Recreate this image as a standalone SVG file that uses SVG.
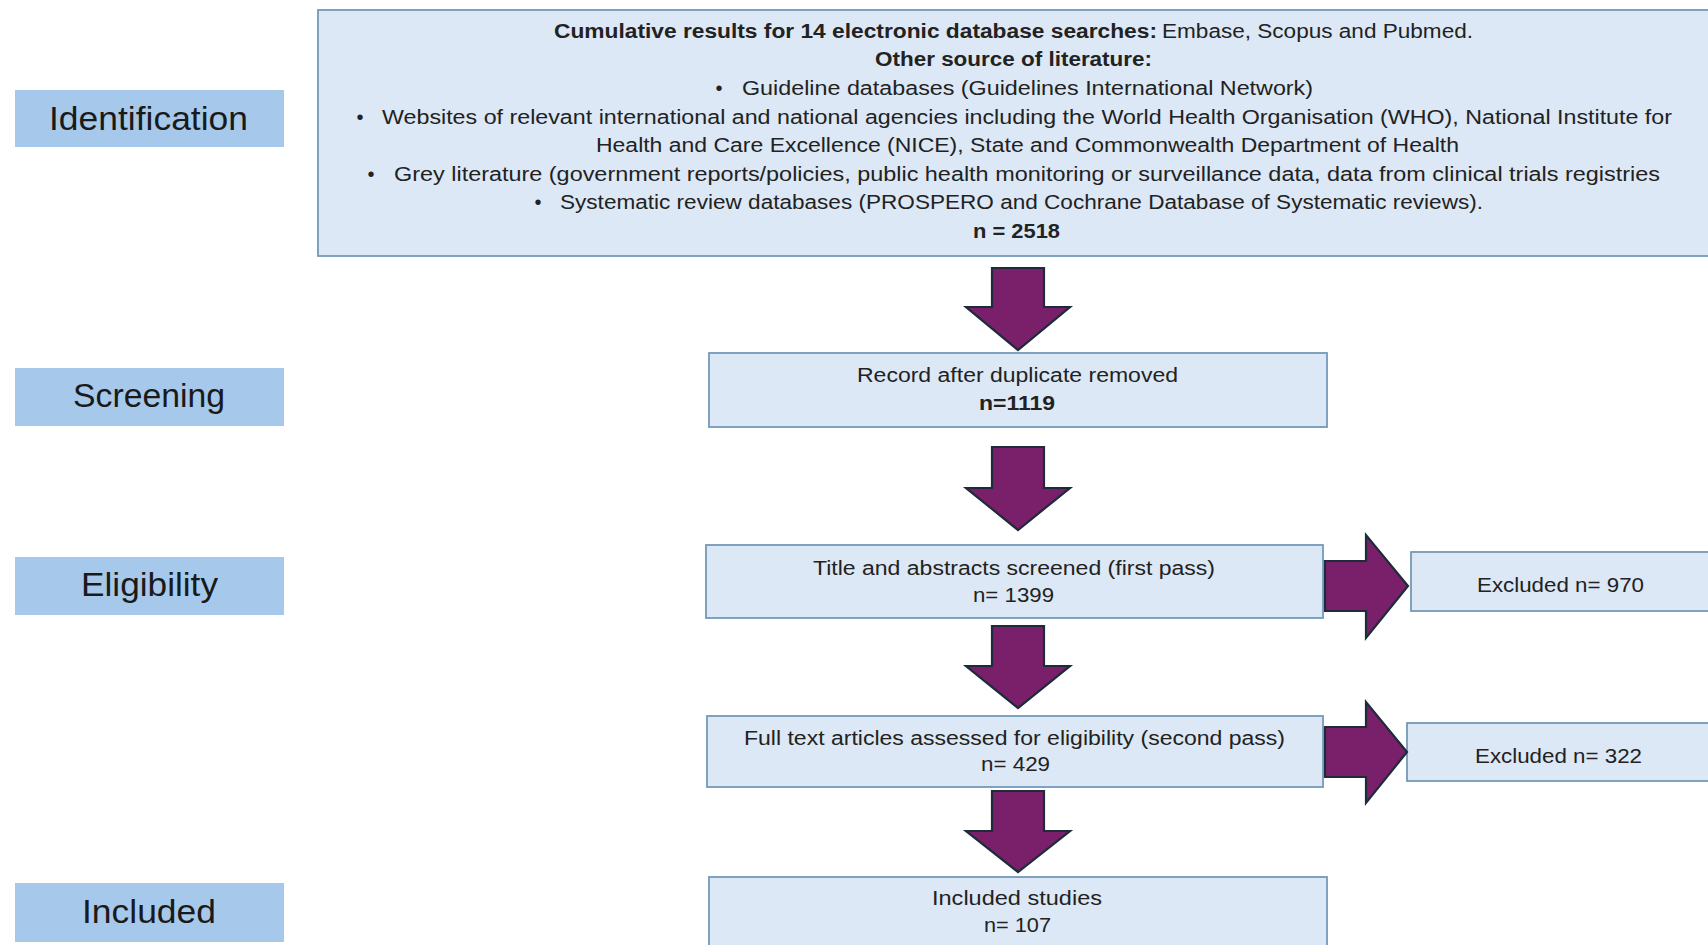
<svg xmlns="http://www.w3.org/2000/svg" width="1708" height="945" viewBox="0 0 1708 945">
<style>
.box{fill:#DCE8F5;stroke:#7399B8;stroke-width:1.8}
.lab{fill:#A6C9EB}
.t{font-family:"Liberation Sans",Arial,sans-serif;font-size:20px;fill:#222}
.b{font-weight:bold}
.lt{font-family:"Liberation Sans",Arial,sans-serif;font-size:34px;fill:#1a1a1a}
.arr{fill:#7A1F69;stroke:#1E2B3B;stroke-width:2.2;stroke-linejoin:miter}
</style>
<rect width="1708" height="945" fill="#ffffff"/>

<g id="label-identification">
<rect class="lab" x="15" y="90" width="269" height="57"/>
<text class="lt" x="49" y="130" textLength="199" lengthAdjust="spacingAndGlyphs">Identification</text>
</g>
<g id="label-screening">
<rect class="lab" x="15" y="368" width="269" height="58"/>
<text class="lt" x="73" y="407" textLength="152" lengthAdjust="spacingAndGlyphs">Screening</text>
</g>
<g id="label-eligibility">
<rect class="lab" x="15" y="557" width="269" height="58"/>
<text class="lt" x="81" y="596" textLength="137" lengthAdjust="spacingAndGlyphs">Eligibility</text>
</g>
<g id="label-included">
<rect class="lab" x="15" y="883" width="269" height="59"/>
<text class="lt" x="82" y="923" textLength="134" lengthAdjust="spacingAndGlyphs">Included</text>
</g>

<g id="node-identification">
<rect class="box" x="318" y="10" width="1400" height="246"/>
<text class="t b" x="554" y="38" textLength="603" lengthAdjust="spacingAndGlyphs">Cumulative results for 14 electronic database searches:</text>
<text class="t" x="1162" y="38" textLength="311" lengthAdjust="spacingAndGlyphs">Embase, Scopus and Pubmed.</text>
<text class="t b" x="875" y="66" textLength="277" lengthAdjust="spacingAndGlyphs">Other source of literature:</text>
<text class="t" x="719" y="95" text-anchor="middle">•</text>
<text class="t" x="742" y="95" textLength="571" lengthAdjust="spacingAndGlyphs">Guideline databases (Guidelines International Network)</text>
<text class="t" x="360" y="124" text-anchor="middle">•</text>
<text class="t" x="382" y="124" textLength="1290" lengthAdjust="spacingAndGlyphs">Websites of relevant international and national agencies including the World Health Organisation (WHO), National Institute for</text>
<text class="t" x="596" y="152" textLength="863" lengthAdjust="spacingAndGlyphs">Health and Care Excellence (NICE), State and Commonwealth Department of Health</text>
<text class="t" x="371" y="181" text-anchor="middle">•</text>
<text class="t" x="394" y="181" textLength="1266" lengthAdjust="spacingAndGlyphs">Grey literature (government reports/policies, public health monitoring or surveillance data, data from clinical trials registries</text>
<text class="t" x="538" y="209" text-anchor="middle">•</text>
<text class="t" x="560" y="209" textLength="923" lengthAdjust="spacingAndGlyphs">Systematic review databases (PROSPERO and Cochrane Database of Systematic reviews).</text>
<text class="t b" x="973" y="238" textLength="87" lengthAdjust="spacingAndGlyphs">n = 2518</text>
</g>

<g id="node-duplicates">
<rect class="box" x="709" y="353" width="618" height="74"/>
<text class="t" x="857" y="382" textLength="321" lengthAdjust="spacingAndGlyphs">Record after duplicate removed</text>
<text class="t b" x="979" y="410" textLength="76" lengthAdjust="spacingAndGlyphs">n=1119</text>
</g>

<g id="node-title-abstract">
<rect class="box" x="706" y="545" width="617" height="73"/>
<text class="t" x="813" y="575" textLength="402" lengthAdjust="spacingAndGlyphs">Title and abstracts screened (first pass)</text>
<text class="t" x="973" y="602" textLength="81" lengthAdjust="spacingAndGlyphs">n= 1399</text>
</g>

<g id="node-excluded-1">
<rect class="box" x="1411" y="552" width="310" height="59"/>
<text class="t" x="1477" y="592" textLength="167" lengthAdjust="spacingAndGlyphs">Excluded n= 970</text>
</g>

<g id="node-full-text">
<rect class="box" x="707" y="716" width="616" height="71"/>
<text class="t" x="744" y="745" textLength="541" lengthAdjust="spacingAndGlyphs">Full text articles assessed for eligibility (second pass)</text>
<text class="t" x="981" y="771" textLength="69" lengthAdjust="spacingAndGlyphs">n= 429</text>
</g>

<g id="node-excluded-2">
<rect class="box" x="1407" y="723" width="314" height="58"/>
<text class="t" x="1475" y="763" textLength="167" lengthAdjust="spacingAndGlyphs">Excluded n= 322</text>
</g>

<g id="node-included">
<rect class="box" x="709" y="877" width="618" height="90"/>
<text class="t" x="932" y="905" textLength="170" lengthAdjust="spacingAndGlyphs">Included studies</text>
<text class="t" x="984" y="932" textLength="67" lengthAdjust="spacingAndGlyphs">n= 107</text>
</g>

<g id="connectors">
<path class="arr" d="M992,268 H1044 V307 H1070 L1018,350 L966,307 H992 Z"/>
<path class="arr" d="M992,447 H1044 V488 H1070 L1018,530 L966,488 H992 Z"/>
<path class="arr" d="M992,626 H1044 V666 H1070 L1018,708 L966,666 H992 Z"/>
<path class="arr" d="M992,791 H1044 V831 H1070 L1018,872 L966,831 H992 Z"/>
<path class="arr" d="M1325,561 H1366 V535 L1408,586 L1366,638 V611 H1325 Z"/>
<path class="arr" d="M1325,727 H1366 V702 L1407,752 L1366,803 V777 H1325 Z"/>
</g>
</svg>
